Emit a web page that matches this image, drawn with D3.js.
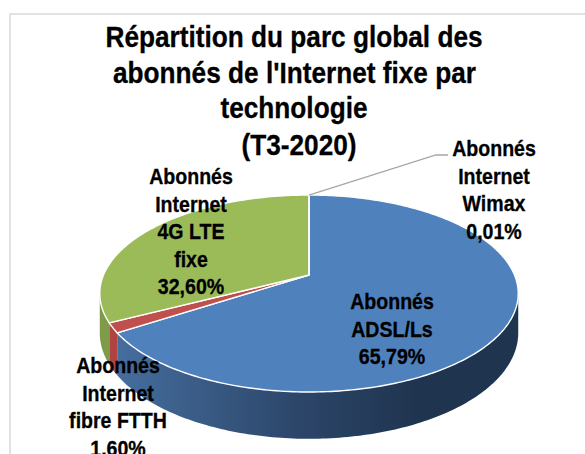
<!DOCTYPE html>
<html><head><meta charset="utf-8">
<script src="https://cdn.jsdelivr.net/npm/d3@7"></script>
<style>html,body{margin:0;padding:0;background:#fff;overflow:hidden}svg{display:block}text{font-family:"Liberation Sans",Arial,sans-serif;font-weight:bold;fill:#000;stroke:#000;stroke-width:0.3;text-anchor:middle}</style>
</head><body><svg id="c" width="585" height="454"></svg>
<script>
const categories=["Abonnés ADSL/Ls","Abonnés Internet fibre FTTH","Abonnés Internet 4G LTE fixe","Abonnés Internet Wimax"];
const values=[65.79,1.60,32.60,0.01];
const topColors=["#4f81bd","#c0504d","#9bbb59","#8064a2"];
const titleLines=["Répartition du parc global des","abonnés de l'Internet fixe par","technologie","(T3-2020)"];
const labelLines=[["Abonnés","ADSL/Ls"],["Abonnés","Internet","fibre FTTH"],["Abonnés","Internet","4G LTE","fixe"],["Abonnés","Internet","Wimax"]];
const labelAnchors=[[392,309],[118,373],[191,184],[494,156]];
const fmt=v=>v.toFixed(2).replace(".",",")+"%";

const svg=d3.select("#c");
const cx=309,ay=275,R=205.5,S=95,k=0.188,D=38;
const proj=(a,depth)=>{const u=Math.sin(a),v=-Math.cos(a),w=1-k*v;return [cx+R*u/w,ay+(S*v+(depth?D:0))/w];};
const centre=[cx,ay];
const arcs=d3.pie().sort(null).value(d=>d)(values);
const N=a=>d3.range(0,1.0001,1/Math.max(2,Math.ceil(Math.abs(a[1]-a[0])*60))).map(d3.interpolate(a[0],a[1]));
const line=d3.line();

const defs=svg.append("defs");
const g=defs.append("linearGradient").attr("id","wall").attr("gradientUnits","userSpaceOnUse")
 .attr("x1",112).attr("x2",420).attr("y1",0).attr("y2",0);
g.append("stop").attr("offset",0).attr("stop-color","#466f9f");
g.append("stop").attr("offset",0.6).attr("stop-color","#2c466a");
g.append("stop").attr("offset",1).attr("stop-color","#1f344e");
const wallFill=["url(#wall)","#b0423f","#7f9a48","#8064a2"];

// frame
svg.append("path").attr("d","M585,14H10V454").attr("fill","none").attr("stroke","#d9d9d9").attr("stroke-width",1.5);

// outer walls (visible part only)
const visLo=Math.acos(-k), visHi=2*Math.PI-Math.acos(-k);
arcs.forEach((d,i)=>{
  const a0=Math.max(d.startAngle,visLo),a1=Math.min(d.endAngle,visHi);
  if(a1<=a0)return;
  const as=N([a0,a1]);
  const pts=as.map(a=>proj(a,false)).concat(as.slice().reverse().map(a=>proj(a,true)));
  svg.append("path").attr("d",line(pts)+"Z").attr("fill",wallFill[i]);
});
// top faces
arcs.forEach((d,i)=>{
  const pts=[centre].concat(N([d.startAngle,d.endAngle]).map(a=>proj(a,false)));
  svg.append("path").attr("d",line(pts)+"Z").attr("fill",topColors[i]).attr("stroke","#fff").attr("stroke-width",1.4).attr("stroke-linejoin","round");
});
// leader of the Wimax slice
const wm=proj((arcs[3].startAngle+arcs[3].endAngle)/2,false);
svg.append("path").attr("d",line([wm,[436,155],[448,155]])).attr("fill","none").attr("stroke","#a6a6a6").attr("stroke-width",1.3);

// text
const put=(s,x,y,size,sx)=>svg.append("text").attr("transform",`translate(${x},${y}) scale(${sx},1)`).attr("font-size",size).text(s);
const titleX=[294,294.5,294,299],titleY=[47,83,118,155];
titleLines.forEach((s,i)=>put(s,titleX[i],titleY[i],30,0.874));
labelLines.forEach((ls,i)=>{
  const [x,y]=labelAnchors[i];
  ls.concat(fmt(values[i])).forEach((s,j)=>put(s,x,y+j*27.5,21.5,0.91));
});
</script></body></html>
